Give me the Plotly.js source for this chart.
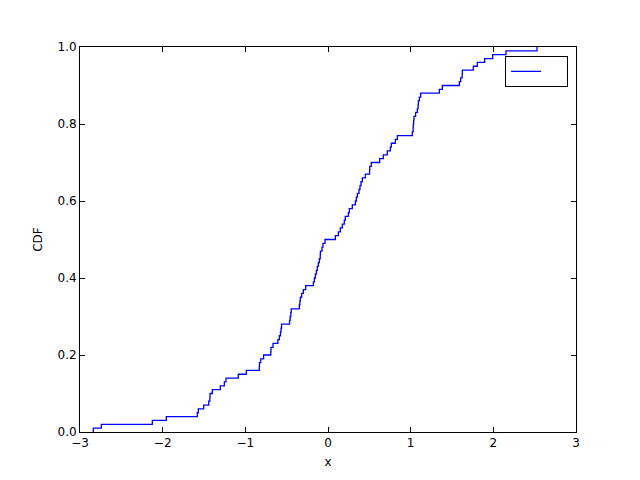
<!DOCTYPE html>
<html>
<head>
<meta charset="utf-8">
<script src="https://cdn.plot.ly/plotly-3.0.1.min.js"></script>
<style>html,body{margin:0;padding:0;background:#fff}#plot{width:640px;height:480px}</style>
</head>
<body>
<div id="plot"></div>
<script>
// Sorted sample values (100 samples)
const samples = [
  -2.839, -2.742, -2.125, -1.956, -1.581, -1.569, -1.504, -1.443, -1.429, -1.427,
  -1.399, -1.303, -1.254, -1.234, -1.085, -0.988, -0.831, -0.829, -0.814, -0.779,
  -0.692, -0.690, -0.665, -0.606, -0.589, -0.575, -0.568, -0.562, -0.465, -0.458,
  -0.450, -0.445, -0.347, -0.340, -0.335, -0.319, -0.298, -0.270, -0.177, -0.165,
  -0.153, -0.141, -0.129, -0.117, -0.105, -0.094, -0.092, -0.073, -0.061, -0.036,
   0.089,  0.125,  0.149,  0.173,  0.197,  0.209,  0.246,  0.258,  0.294,  0.331,
   0.343,  0.355,  0.375,  0.387,  0.399,  0.415,  0.452,  0.503,  0.505,  0.524,
   0.625,  0.669,  0.718,  0.754,  0.766,  0.815,  0.839,  1.020,  1.030,  1.032,
   1.036,  1.040,  1.060,  1.081,  1.090,  1.093,  1.105,  1.121,  1.347,  1.383,
   1.589,  1.605,  1.623,  1.625,  1.758,  1.806,  1.895,  1.992,  2.153,  2.528
];
const xTicks = [-3, -2, -1, 0, 1, 2, 3];
const yTicks = [0, 0.2, 0.4, 0.6, 0.8, 1.0];

// Empirical CDF built from the samples
const sorted = samples.slice().sort((a, b) => a - b);
const n = sorted.length;
const cdfX = [sorted[0]];
const cdfY = [0];
sorted.forEach((v, i) => { cdfX.push(v); cdfY.push((i + 1) / n); });

const axisCommon = {
  showgrid: false, zeroline: false,
  showline: true, linecolor: '#000', linewidth: 1, mirror: 'allticks',
  ticks: 'inside', ticklen: 5, tickcolor: '#000', tickwidth: 1,
  tickfont: {family: 'DejaVu Sans', size: 12, color: '#000'}
};

const trace = {
  x: cdfX, y: cdfY, type: 'scatter', mode: 'lines',
  line: {shape: 'hv', color: '#0000ff', width: 1.3},
  name: '\u00a0\u00a0\u00a0\u00a0', showlegend: true
};

const layout = {
  width: 640, height: 480,
  margin: {l: 80, r: 64, t: 47, b: 48},
  paper_bgcolor: '#fff', plot_bgcolor: '#fff',
  font: {family: 'DejaVu Sans', size: 12, color: '#000'},
  xaxis: Object.assign({}, axisCommon, {
    range: [-3, 3], tickvals: xTicks, ticktext: xTicks.map(v => (v < 0 ? '\u2212' + Math.abs(v) : String(v))),
    title: {text: 'x', font: {family: 'DejaVu Sans', size: 12, color: '#000'}, standoff: 8}
  }),
  yaxis: Object.assign({}, axisCommon, {
    range: [0, 1], tickvals: yTicks, ticktext: yTicks.map(v => v.toFixed(1)),
    title: {text: 'CDF', font: {family: 'DejaVu Sans', size: 12, color: '#000'}, standoff: 12}
  }),
  showlegend: true,
  legend: {
    x: 0.984, xanchor: 'right', y: 0.977, yanchor: 'top',
    bordercolor: '#000', borderwidth: 1, bgcolor: '#fff',
    itemwidth: 30, font: {family: 'DejaVu Sans', size: 12}
  }
};

Plotly.newPlot('plot', [trace], layout, {displayModeBar: false, staticPlot: true});
</script>
</body>
</html>
